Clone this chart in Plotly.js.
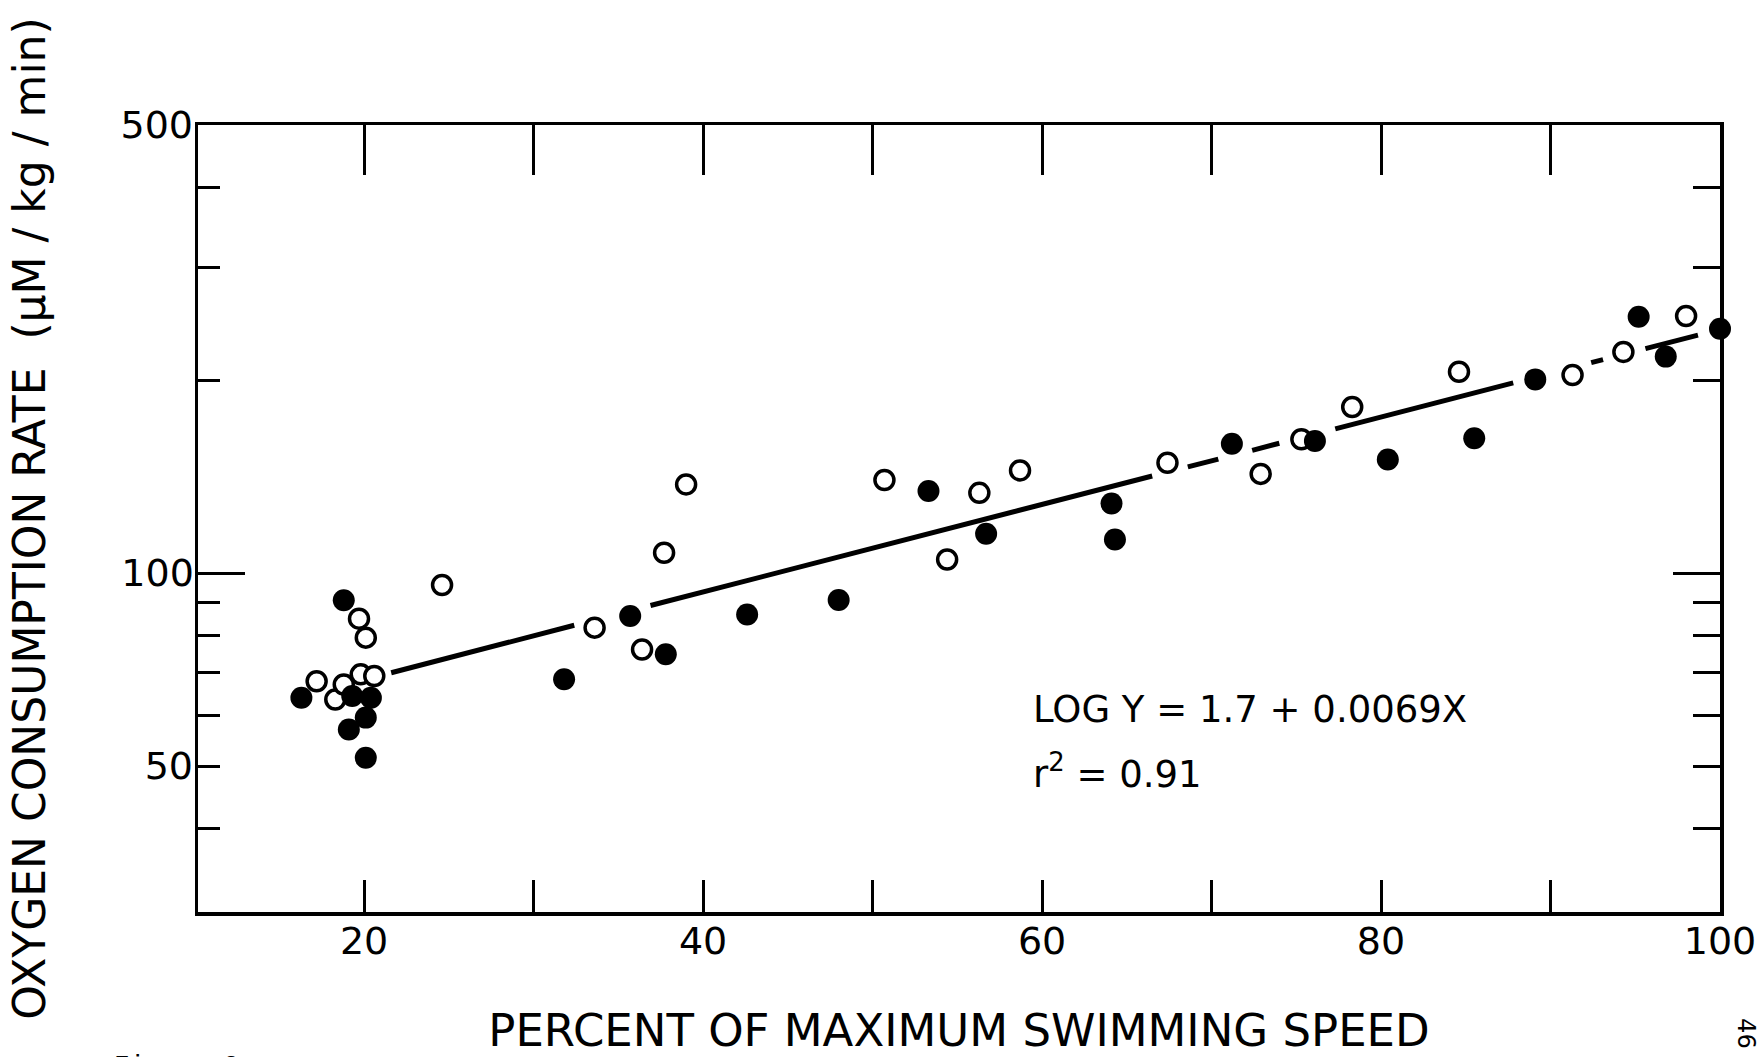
<!DOCTYPE html>
<html>
<head>
<meta charset="utf-8">
<script src="https://cdn.plot.ly/plotly-3.0.1.min.js"></script>
<style>
html,body{margin:0;padding:0;background:#fff;}
#chart{width:1761px;height:1057px;}
</style>
</head>
<body>
<div id="chart"></div>
<script>
// Open circles
const openX = [17.2, 18.3, 18.8, 19.7, 19.8, 20.1, 20.6, 24.6, 33.6, 36.4, 37.7, 39.0, 50.7, 54.4, 56.3, 58.7, 67.4, 72.9, 75.3, 78.3, 84.6, 91.3, 94.3, 98.0, 100.1];
const openY = [67.8, 63.5, 67.0, 84.9, 69.5, 79.3, 69.1, 95.8, 82.2, 76.0, 107.6, 137.5, 139.7, 105.0, 133.4, 144.6, 148.6, 142.8, 161.7, 181.6, 206.1, 203.7, 221.3, 251.8, 273.1];

// Filled circles
const filledX = [16.3, 18.8, 19.1, 19.3, 20.1, 20.1, 20.4, 31.8, 35.7, 37.8, 42.6, 48.0, 53.3, 56.7, 64.1, 64.3, 71.2, 76.1, 80.4, 85.5, 89.1, 95.2, 96.8, 100.0];
const filledY = [63.9, 90.7, 57.0, 64.3, 59.5, 51.5, 63.9, 68.3, 85.7, 74.7, 86.2, 90.8, 134.3, 115.2, 128.4, 112.8, 159.1, 160.7, 150.4, 162.3, 200.5, 251.1, 217.6, 240.5];

// Regression line, drawn in broken segments (null = gap)
const lineX = [21.6, 32.4, null, 36.9, 66.5, null, 68.6, 70.4, null, 72.4, 74.0, null, 77.3, 87.8, null, 92.4, 93.1, null, 95.6, 98.7];
const lineY = [69.9, 82.9, null, 89.0, 141.7, null, 146.4, 150.6, null, 155.4, 159.4, null, 167.9, 198.0, null, 212.9, 215.3, null, 223.9, 235.0];

// Tick definitions
const xTickVals = [20, 30, 40, 50, 60, 70, 80, 90, 100];
const xTickText = ['20', ' ', '40', ' ', '60', ' ', '80', ' ', '100'];
const xTopTickVals = [20, 30, 40, 50, 60, 70, 80, 90];
const yLabelVals = [50, 500];
const yLabelText = ['50', '500'];
const yMinorVals = [40, 50, 60, 70, 80, 90, 200, 300, 400];
const yMinorValsLeft = [40, 60, 70, 80, 90, 200, 300, 400];

const FONT = 'DejaVu Sans, sans-serif';
const xRange = [10.2, 100];
const yRange = [Math.log10(29.6), Math.log10(500)];

// invisible anchor point so the overlay axes get drawn
const anchorX = [50];
const anchorY = [100];
const ghost = (xa, ya) => ({x: anchorX, y: anchorY, xaxis: xa, yaxis: ya, mode: 'markers',
  marker: {opacity: 0, size: 1}, hoverinfo: 'skip', showlegend: false});

const traces = [
  ghost('x2', 'y'), ghost('x', 'y2'), ghost('x', 'y3'),
  {x: lineX, y: lineY, mode: 'lines', line: {color: '#000', width: 5}, connectgaps: false,
   hoverinfo: 'skip', showlegend: false},
  {x: openX, y: openY, mode: 'markers', cliponaxis: false, showlegend: false,
   marker: {symbol: 'circle', size: 19, color: '#fff', line: {color: '#000', width: 3.5}}},
  {x: filledX, y: filledY, mode: 'markers', cliponaxis: false, showlegend: false,
   marker: {symbol: 'circle', size: 22, color: '#000', line: {width: 0}}}
];

const layout = {
  width: 1761, height: 1057,
  margin: {l: 198, r: 41, t: 125, b: 145, autoexpand: false},
  paper_bgcolor: '#fff', plot_bgcolor: '#fff',
  font: {family: FONT, color: '#000', size: 38},
  showlegend: false,
  xaxis: {
    range: xRange, showgrid: false, zeroline: false,
    showline: true, linecolor: '#000', linewidth: 3.5,
    ticks: 'inside', ticklen: 32, tickwidth: 3, tickcolor: '#000',
    tickmode: 'array', tickvals: xTickVals, ticktext: xTickText,
    tickfont: {family: FONT, size: 38, color: '#000'},
    ticklabelstandoff: -7,
    title: {text: 'PERCENT OF MAXIMUM SWIMMING SPEED', font: {family: FONT, size: 45, color: '#000'}, standoff: 58}
  },
  xaxis2: {
    overlaying: 'x', side: 'top', anchor: 'y', range: xRange, showgrid: false, zeroline: false,
    showline: true, linecolor: '#000', linewidth: 3.5,
    ticks: 'inside', ticklen: 50, tickwidth: 3, tickcolor: '#000',
    tickmode: 'array', tickvals: xTopTickVals, showticklabels: false
  },
  yaxis: {
    type: 'log', range: yRange, showgrid: false, zeroline: false,
    showline: true, linecolor: '#000', linewidth: 3.5,
    ticks: 'inside', ticklen: 47, tickwidth: 3, tickcolor: '#000',
    tickmode: 'array', tickvals: [100], ticktext: ['100'],
    tickfont: {family: FONT, size: 38, color: '#000'},
    ticklabelstandoff: -7,
    minor: {tickmode: 'array', tickvals: yMinorValsLeft, ticks: 'inside', ticklen: 22, tickwidth: 3, tickcolor: '#000', showgrid: false},
    title: {text: 'OXYGEN CONSUMPTION RATE\u00a0\u00a0(\u00b5M / kg / min)', font: {family: FONT, size: 44, color: '#000'}, standoff: 63}
  },
  yaxis2: {
    type: 'log', overlaying: 'y', side: 'left', anchor: 'x', range: yRange,
    showgrid: false, zeroline: false, showline: false,
    ticks: 'inside', ticklen: 22, tickwidth: 3, tickcolor: '#000',
    tickmode: 'array', tickvals: yLabelVals, ticktext: yLabelText,
    tickfont: {family: FONT, size: 38, color: '#000'},
    ticklabelstandoff: 4
  },
  yaxis3: {
    type: 'log', overlaying: 'y', side: 'right', anchor: 'x', range: yRange,
    showgrid: false, zeroline: false,
    showline: true, linecolor: '#000', linewidth: 3.5,
    ticks: 'inside', ticklen: 47, tickwidth: 3, tickcolor: '#000',
    tickmode: 'array', tickvals: [100], showticklabels: false,
    minor: {tickmode: 'array', tickvals: yMinorVals, ticks: 'inside', ticklen: 27, tickwidth: 3, tickcolor: '#000', showgrid: false}
  },
  annotations: [
    {xref: 'paper', yref: 'paper', x: 0.547, y: 0.2567, xanchor: 'left', yanchor: 'middle',
     text: 'LOG Y = 1.7 + 0.0069X', showarrow: false, font: {family: FONT, size: 37, color: '#000'}},
    {xref: 'paper', yref: 'paper', x: 0.547, y: 0.178, xanchor: 'left', yanchor: 'middle',
     text: 'r<sup>2</sup> = 0.91', showarrow: false, font: {family: FONT, size: 37, color: '#000'}},
    {xref: 'paper', yref: 'paper', x: 1.017, y: -0.155, xanchor: 'center', yanchor: 'middle',
     text: '46', textangle: 90, showarrow: false, font: {family: FONT, size: 24, color: '#000'}},
    {xref: 'paper', yref: 'paper', x: -0.0565, y: -0.174, xanchor: 'left', yanchor: 'top',
     text: 'Figure 2', showarrow: false, font: {family: 'Liberation Mono, monospace', size: 26, color: '#000'}}
  ]
};

Plotly.newPlot('chart', traces, layout, {displayModeBar: false, staticPlot: true});
</script>
</body>
</html>
